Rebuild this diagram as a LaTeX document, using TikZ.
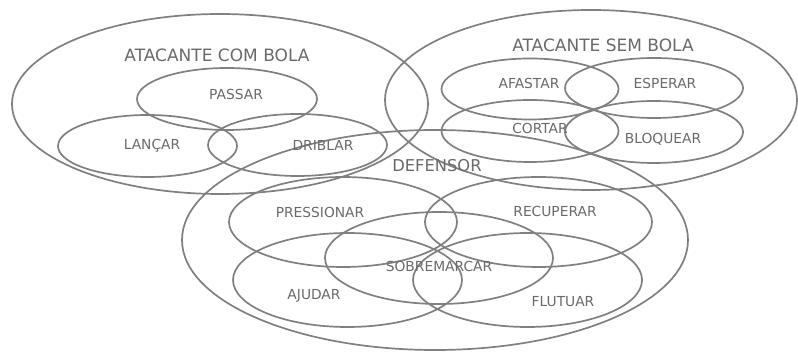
\documentclass[tikz,border=0pt]{standalone}
\usepackage{fontspec}
\setmainfont{DejaVu Sans}
\definecolor{linegray}{RGB}{128,128,128}
\definecolor{textgray}{RGB}{105,105,105}
\begin{document}
\begin{tikzpicture}[x=1pt,y=-1pt,
  ring/.style={draw=linegray,line width=1.7pt},
  head/.style={text=textgray,font=\fontsize{17}{17}\selectfont,inner sep=0pt},
  lab/.style={text=textgray,font=\fontsize{13.8}{14}\selectfont,inner sep=0pt}]
\useasboundingbox (0,0) rectangle (798,352);
% big sets
\draw[ring] (220,104) ellipse [x radius=208,y radius=90];
\draw[ring] (591,100) ellipse [x radius=206,y radius=90];
\draw[ring] (435,240) ellipse [x radius=253,y radius=110];
% atacante com bola
\draw[ring] (227,99) ellipse [x radius=90,y radius=31];
\draw[ring] (147.5,146) ellipse [x radius=89.5,y radius=31];
\draw[ring] (297.5,145) ellipse [x radius=89.5,y radius=31];
% atacante sem bola
\draw[ring] (530,89) ellipse [x radius=88.5,y radius=30.5];
\draw[ring] (654,88) ellipse [x radius=89,y radius=30];
\draw[ring] (530,131) ellipse [x radius=88.5,y radius=31];
\draw[ring] (654,132) ellipse [x radius=89,y radius=31];
% defensor
\draw[ring] (343,222) ellipse [x radius=114,y radius=45];
\draw[ring] (538.5,222) ellipse [x radius=113.5,y radius=45];
\draw[ring] (439,258) ellipse [x radius=114,y radius=46];
\draw[ring] (347.5,280) ellipse [x radius=114.5,y radius=47];
\draw[ring] (527.5,280) ellipse [x radius=114.5,y radius=47];
% labels
\node[head] (acb) at (217,55) {ATACANTE COM BOLA};
\node[head] (asb) at (603,45) {ATACANTE SEM BOLA};
\node[head,font=\fontsize{16.3}{16}\selectfont] (def) at (437,166) {DEFENSOR};
\node[lab] (passar) at (236,94) {PASSAR};
\node[lab] (lancar) at (152,146) {LANÇAR};
\node[lab] (driblar) at (323,145) {DRIBLAR};
\node[lab] (afastar) at (529,83) {AFASTAR};
\node[lab] (esperar) at (665,83) {ESPERAR};
\node[lab] (cortar) at (540,128) {CORTAR};
\node[lab] (bloquear) at (663,139) {BLOQUEAR};
\node[lab] (press) at (320,212) {PRESSIONAR};
\node[lab] (recup) at (555,211) {RECUPERAR};
\node[lab] (sobre) at (439,266) {SOBREMARCAR};
\node[lab] (ajudar) at (314,296) {AJUDAR};
\node[lab] (flutuar) at (563,302) {FLUTUAR};
\end{tikzpicture}
\end{document}
